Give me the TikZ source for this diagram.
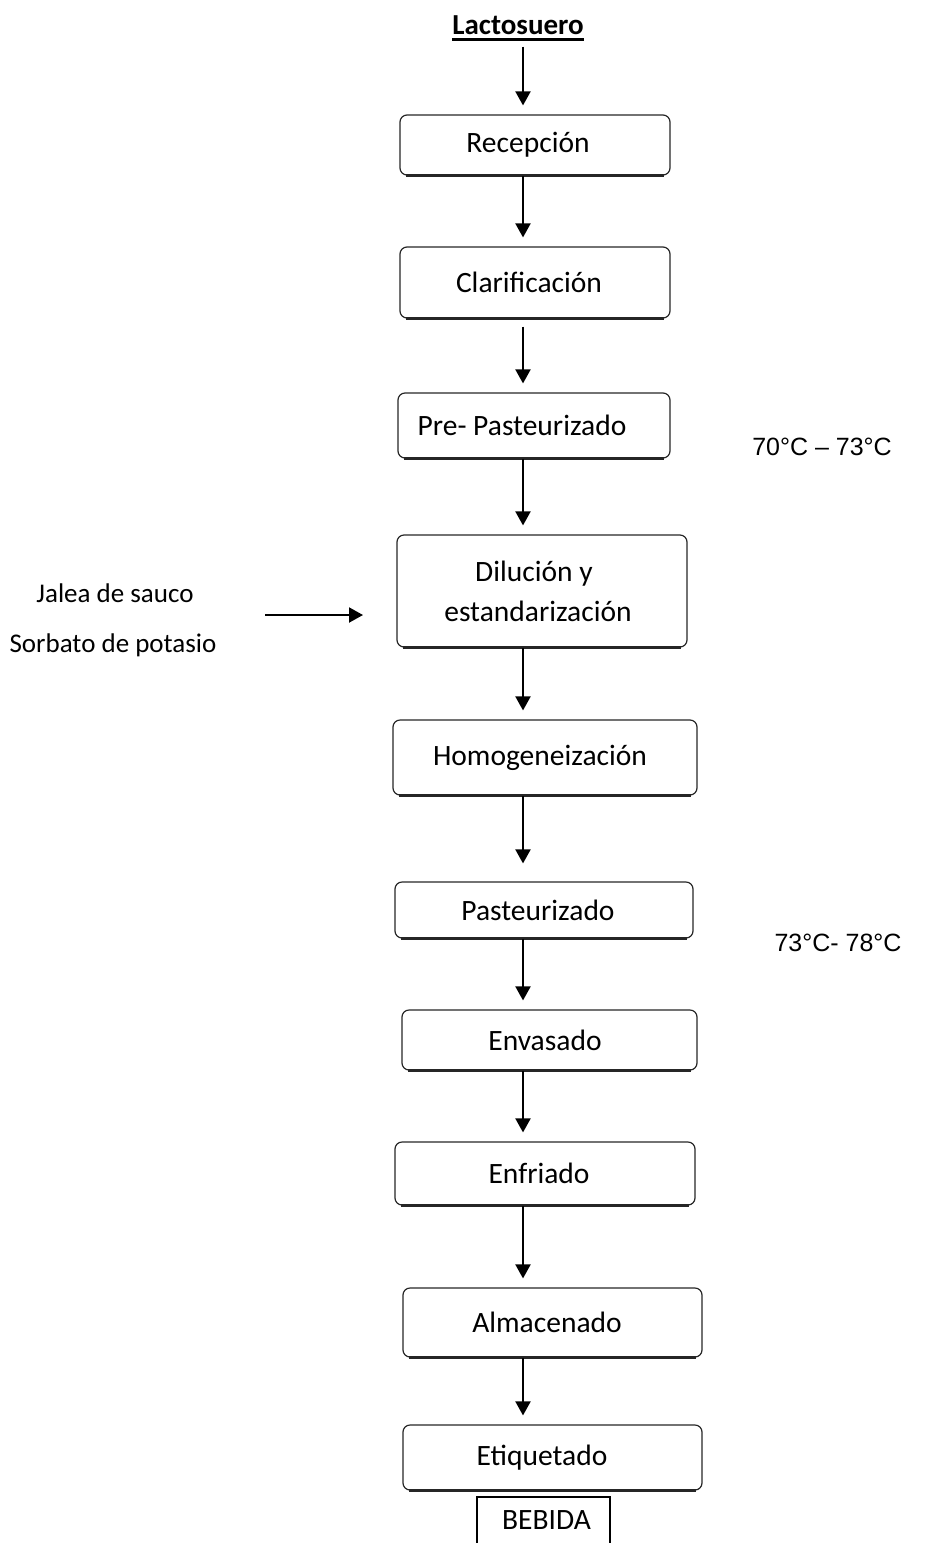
\documentclass[tikz,border=0pt]{standalone}
\usepackage{fontspec}
\setmainfont{Carlito}
\newfontfamily\arialfont{Liberation Sans}
\usetikzlibrary{arrows.meta}
\newcommand\lsh[1]{\hspace*{#1pt}}
\begin{document}
\begin{tikzpicture}[x=1pt,y=-1pt,
  stepbox/.style={draw=black!85,line width=1.2pt,rounded corners=7pt,inner sep=0pt,
    font=\fontsize{29.5}{35}\selectfont,align=center},
  lbl/.style={inner sep=0pt,font=\fontsize{27}{33}\selectfont},
  temp/.style={inner sep=0pt,font=\arialfont\fontsize{25}{30}\selectfont},
  arr/.style={line width=2pt,-{Triangle[width=15pt,length=14pt]},shorten >=9pt}]
\useasboundingbox (0,0) rectangle (925,1543);
\node[inner sep=0pt,font=\bfseries\fontsize{29}{34}\selectfont] (lac) at (518,25) {Lactosuero};
\draw[line width=2.5pt] ([yshift=-5pt]lac.base west) -- ([yshift=-5pt]lac.base east);
\node[stepbox,minimum width=270pt,minimum height=60pt] (rec) at (535,145) {Recepción\lsh{14}};
\node[stepbox,minimum width=270pt,minimum height=71pt] (cla) at (535,282.5) {Clarificación\lsh{12}};
\node[stepbox,minimum width=272pt,minimum height=65pt] (pre) at (534,425.5) {Pre- Pasteurizado\lsh{24}};
\node[stepbox,minimum width=290pt,minimum height=112pt] (dil) at (542,591) {Dilución y\lsh{16}\\[5pt]estandarización\lsh{8}};
\node[stepbox,minimum width=304pt,minimum height=75pt] (hom) at (545,757.5) {Homogeneización\lsh{10}};
\node[stepbox,minimum width=298pt,minimum height=56pt] (pas) at (544,910) {Pasteurizado\lsh{12}};
\node[stepbox,minimum width=295pt,minimum height=60pt] (env) at (549.5,1040) {Envasado\lsh{9}};
\node[stepbox,minimum width=300pt,minimum height=63pt] (enf) at (545,1173.5) {Enfriado\lsh{12}};
\node[stepbox,minimum width=299pt,minimum height=69pt] (alm) at (552.5,1322.5) {Almacenado\lsh{11}};
\node[stepbox,minimum width=299pt,minimum height=65pt] (eti) at (552.5,1457.5) {Etiquetado\lsh{21}};
\node[inner sep=0pt,minimum width=133pt,minimum height=46pt,
  font=\fontsize{29.5}{35}\selectfont] (beb) at (543.5,1520) {\lsh{6}\raisebox{-3pt}{BEBIDA}};
\draw[line width=1.5pt] (beb.south west) -- (beb.north west) -- (beb.north east) -- (beb.south east);
\foreach \b in {rec,cla,pre,dil,hom,pas,env,enf,alm,eti}
  \draw[line width=2.4pt,black!85] ([xshift=7pt]\b.south west) -- ([xshift=-7pt]\b.south east);
\node[temp] (t1) at (822,447) {70°C – 73°C};
\node[temp] (t2) at (838,943) {73°C- 78°C};
\node[lbl] (jal) at (115,593) {Jalea de sauco};
\node[lbl] (sor) at (113,645) {Sorbato de potasio};
\coordinate (ax) at (523,0);
\coordinate (hs) at (265,615);
\coordinate (he) at (363,615);
\draw[arr] ([yshift=-12pt]lac.south -| ax) -- (rec.north -| ax);
\draw[arr] (rec.south -| ax) -- (cla.north -| ax);
\draw[arr] ([yshift=-8pt]cla.south -| ax) -- (pre.north -| ax);
\draw[arr] (pre.south -| ax) -- (dil.north -| ax);
\draw[arr] (dil.south -| ax) -- (hom.north -| ax);
\draw[arr,shorten >=18pt] (hom.south -| ax) -- (pas.north -| ax);
\draw[arr] (pas.south -| ax) -- (env.north -| ax);
\draw[arr] (env.south -| ax) -- (enf.north -| ax);
\draw[arr] (enf.south -| ax) -- (alm.north -| ax);
\draw[arr] (alm.south -| ax) -- (eti.north -| ax);
\draw[arr,shorten >=0pt] (hs) -- (he);
\end{tikzpicture}
\end{document}
